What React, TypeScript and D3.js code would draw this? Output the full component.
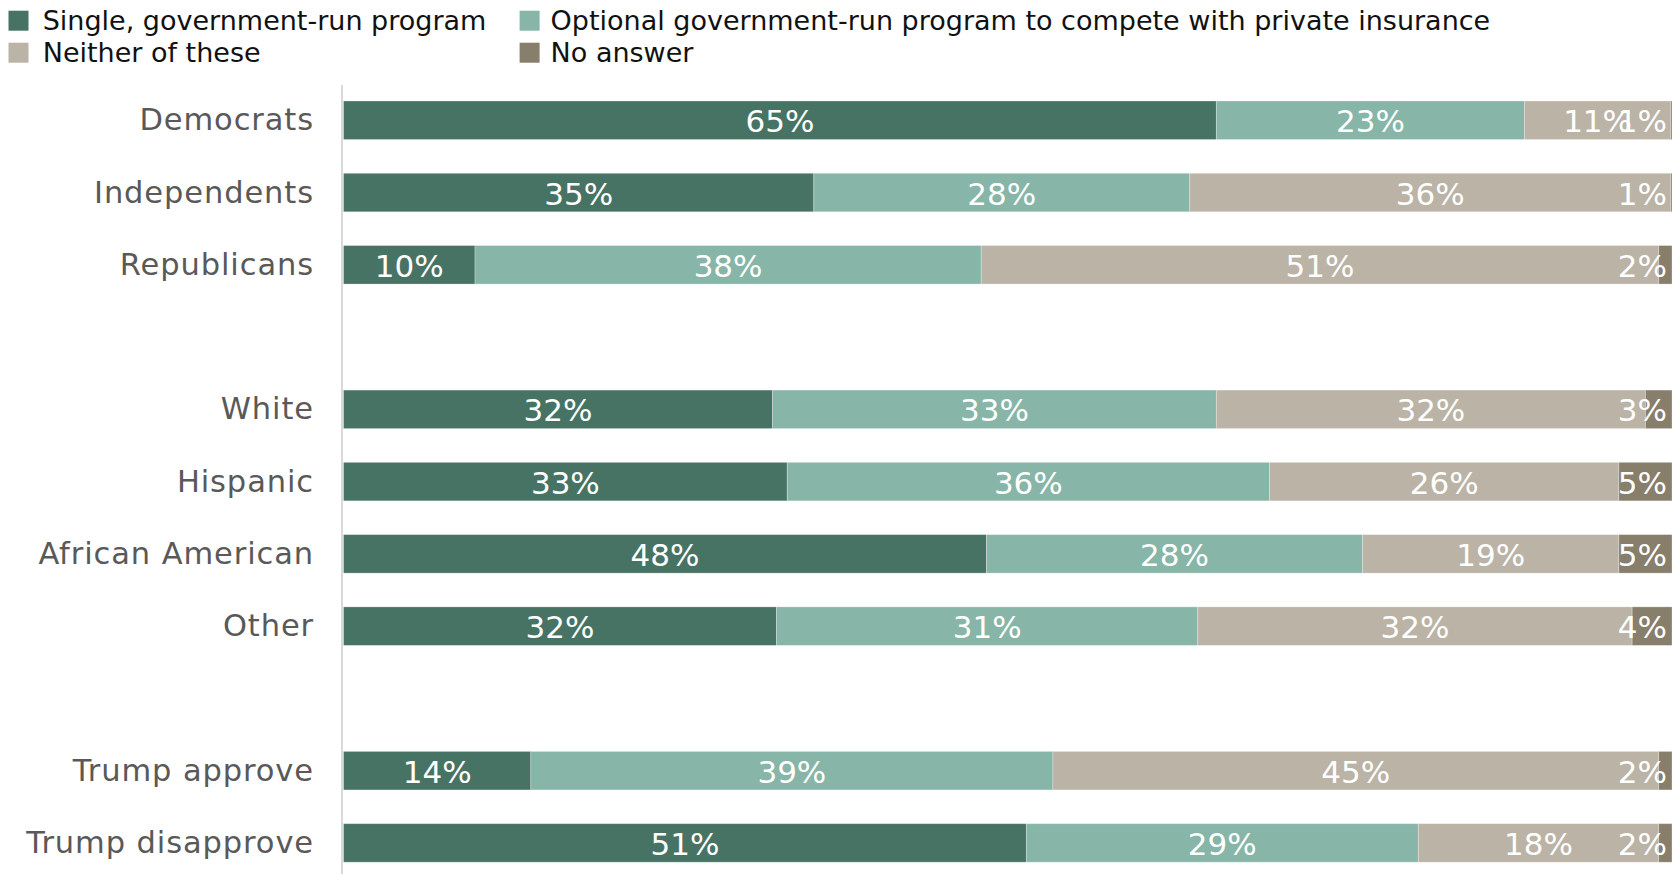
import React, { useEffect, useRef } from "react";
import * as d3 from "d3";

const W = 1673;
const H = 874;

// Row keys (blank strings separate the groups)
const categories = [
  "Democrats",
  "Independents",
  "Republicans",
  "",
  "White",
  "Hispanic",
  "African American",
  "Other",
  " ",
  "Trump approve",
  "Trump disapprove",
];

const seriesNames = [
  "Single, government-run program",
  "Optional government-run program to compete with private insurance",
  "Neither of these",
  "No answer",
];
const seriesColors = ["#477365", "#87b5a7", "#bab3a6", "#877e6b"];

// Segment widths (percent), null for spacer rows
const singleValues = [65.7, 35.4, 9.9, null, 32.3, 33.4, 48.4, 32.6, null, 14.1, 51.4];
const optionalValues = [23.2, 28.3, 38.1, null, 33.4, 36.3, 28.3, 31.7, null, 39.3, 29.5];
const neitherValues = [11.0, 36.2, 51.0, null, 32.3, 26.3, 19.3, 32.7, null, 45.6, 18.1];
const noAnswerValues = [0.1, 0.1, 1.0, null, 2.0, 4.0, 4.0, 3.0, null, 1.0, 1.0];

// Printed data labels
const singleLabels = [65, 35, 10, null, 32, 33, 48, 32, null, 14, 51];
const optionalLabels = [23, 28, 38, null, 33, 36, 28, 31, null, 39, 29];
const neitherLabels = [11, 36, 51, null, 32, 26, 19, 32, null, 45, 18];
const noAnswerLabels = [1, 1, 2, null, 3, 5, 5, 4, null, 2, 2];

const FONT = "'DejaVu Sans', Verdana, sans-serif";

export default function App() {
  const ref = useRef<SVGSVGElement | null>(null);

  useEffect(() => {
    document.body.style.margin = "0";
    const svg = d3.select(ref.current);
    svg.selectAll("*").remove();

    const x = d3.scaleLinear().domain([0, 100]).range([343.5, 1672]);
    const y = d3
      .scaleBand<string>()
      .domain(categories)
      .range([101, 862.2])
      .paddingInner(0.467)
      .paddingOuter(0);

    const values = [singleValues, optionalValues, neitherValues, noAnswerValues];
    const labels = [singleLabels, optionalLabels, neitherLabels, noAnswerLabels];

    // Legend
    const legendPos = [
      { x: 8.5, y: 10.7, tx: 42.7 },
      { x: 519.6, y: 10.7, tx: 550.6 },
      { x: 8.5, y: 42.7, tx: 42.7 },
      { x: 519.6, y: 42.7, tx: 550.6 },
    ];
    const legend = svg.append("g");
    seriesNames.forEach((name, i) => {
      const p = legendPos[i];
      legend
        .append("rect")
        .attr("x", p.x)
        .attr("y", p.y)
        .attr("width", 20)
        .attr("height", 20)
        .attr("fill", seriesColors[i]);
      legend
        .append("text")
        .attr("x", p.tx)
        .attr("y", p.y + 19.5)
        .attr("font-family", FONT)
        .attr("font-size", 27)
        .attr("fill", "#111")
        .text(name);
    });

    // Axis line
    svg
      .append("line")
      .attr("x1", 342)
      .attr("x2", 342)
      .attr("y1", 85)
      .attr("y2", H)
      .attr("stroke", "#d9d9d9")
      .attr("stroke-width", 2);

    const barG = svg.append("g");
    const labelG = svg.append("g");
    const catG = svg.append("g");

    categories.forEach((cat, r) => {
      if (singleValues[r] == null) return;
      const y0 = y(cat)!;
      const bw = y.bandwidth();
      const cy = y0 + bw / 2;

      catG
        .append("text")
        .attr("x", 314)
        .attr("y", cy + 10)
        .attr("text-anchor", "end")
        .attr("font-family", FONT)
        .attr("font-size", 30.5)
        .attr("letter-spacing", 0.9)
        .attr("fill", "#595959")
        .text(cat);

      let cum = 0;
      values.forEach((series, s) => {
        const v = series[r] as number;
        const x0 = x(cum);
        const x1 = x(cum + v);
        cum += v;
        barG
          .append("rect")
          .attr("x", x0)
          .attr("y", y0)
          .attr("width", Math.max(0, x1 - x0))
          .attr("height", bw)
          .attr("fill", seriesColors[s])
          .attr("stroke", "#ffffff")
          .attr("stroke-opacity", 0.35)
          .attr("stroke-width", 0.8);

        const t = labelG
          .append("text")
          .attr("y", cy + 12)
          .attr("text-anchor", "middle")
          .attr("font-family", FONT)
          .attr("font-size", 31)
          .attr("fill", "#ffffff")
          .text(`${labels[s][r]}%`);
        const tw = (t.node() as SVGTextElement).getComputedTextLength();
        let cx = (x0 + x1) / 2;
        const maxRight = x.range()[1] - 5;
        if (cx + tw / 2 > maxRight) cx = maxRight - tw / 2;
        t.attr("x", cx);
      });
    });
  }, []);

  return (
    <svg
      ref={ref}
      width={W}
      height={H}
      style={{ position: "absolute", left: 0, top: 0, background: "#fff" }}
    />
  );
}
